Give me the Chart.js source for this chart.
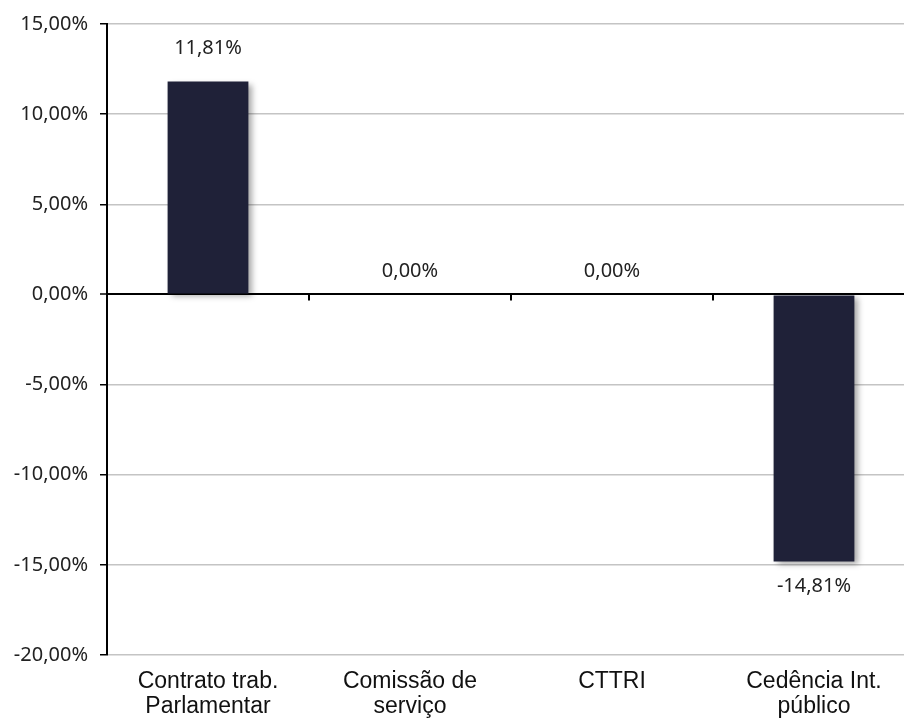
<!DOCTYPE html>
<html>
<head>
<meta charset="utf-8">
<script src="https://cdn.jsdelivr.net/npm/chart.js@4/dist/chart.umd.min.js"></script>
<style>
  html, body { margin: 0; padding: 0; background: #ffffff; overflow: hidden; }
  #wrap { width: 915px; height: 720px; position: relative; }
</style>
</head>
<body>
<div id="wrap"><canvas id="c"></canvas></div>
<script>
const categories = [
  ['Contrato trab.', 'Parlamentar'],
  ['Comissão de', 'serviço'],
  ['CTTRI'],
  ['Cedência Int.', 'público']
];
const values = [11.81, 0.00, 0.00, -14.81];
const yMin = -20, yMax = 15, yStep = 5;

const fmt = v => v.toFixed(2).replace('.', ',') + '%';

const shadowPlugin = {
  id: 'barShadow',
  beforeDatasetsDraw(chart) {
    const ctx = chart.ctx;
    ctx.save();
    ctx.shadowColor = 'rgba(0,0,0,0.35)';
    ctx.shadowBlur = 6;
    ctx.shadowOffsetX = 4;
    ctx.shadowOffsetY = 3;
  },
  afterDatasetsDraw(chart) {
    chart.ctx.restore();
  }
};

const zeroTicksPlugin = {
  id: 'zeroTicks',
  afterDatasetsDraw(chart) {
    const ctx = chart.ctx;
    const x = chart.scales.x, y = chart.scales.y;
    const y0 = y.getPixelForValue(0);
    ctx.save();
    ctx.strokeStyle = '#000';
    ctx.lineWidth = 2;
    for (let i = 1; i < categories.length; i++) {
      const px = Math.round((x.getPixelForValue(i - 1) + x.getPixelForValue(i)) / 2);
      ctx.beginPath();
      ctx.moveTo(px, y0);
      ctx.lineTo(px, y0 + 6);
      ctx.stroke();
    }
    ctx.restore();
  }
};

const labelPlugin = {
  id: 'valueLabels',
  afterDatasetsDraw(chart) {
    const ctx = chart.ctx;
    const meta = chart.getDatasetMeta(0);
    ctx.save();
    ctx.font = '20px "Noto Sans", "Open Sans", sans-serif';
    ctx.fillStyle = '#222';
    ctx.textAlign = 'center';
    ctx.textBaseline = 'middle';
    meta.data.forEach((bar, i) => {
      const v = values[i];
      let yy;
      if (v > 0) yy = bar.y - 33;
      else if (v < 0) yy = bar.y + 25;
      else yy = bar.y - 23;
      ctx.fillText(fmt(v), bar.x, yy);
    });
    ctx.restore();
  }
};

new Chart(document.getElementById('c'), {
  type: 'bar',
  data: {
    labels: categories,
    datasets: [{
      data: values,
      backgroundColor: '#1f2138',
      borderWidth: 0,
      categoryPercentage: 1.0,
      barPercentage: 0.40
    }]
  },
  options: {
    responsive: true,
    maintainAspectRatio: false,
    animation: false,
    layout: { padding: { top: 22, right: 0, bottom: 0, left: 0 } },
    plugins: { legend: { display: false }, tooltip: { enabled: false } },
    scales: {
      x: {
        grid: { display: false },
        border: { display: false },
        ticks: {
          color: '#111',
          font: { family: '"Liberation Sans", Arial, sans-serif', size: 23, lineHeight: 1.1 },
          padding: 6,
          maxRotation: 0,
          autoSkip: false
        },
        afterFit(scale) { scale.height = 65; }
      },
      y: {
        min: yMin,
        max: yMax,
        ticks: {
          stepSize: yStep,
          color: '#222',
          font: { family: '"Noto Sans", "Open Sans", sans-serif', size: 20 },
          padding: 12,
          callback: v => fmt(v)
        },
        grid: {
          color: ctx => (ctx.tick && ctx.tick.value === 0) ? '#000' : '#c4c4c4',
          lineWidth: ctx => (ctx.tick && ctx.tick.value === 0) ? 2 : 1.5,
          tickColor: '#000',
          tickLength: 7,
          tickWidth: 1.5,
          drawTicks: true
        },
        border: { display: true, color: '#000', width: 2 },
        afterFit(scale) { scale.width = 107; }
      }
    }
  },
  plugins: [shadowPlugin, zeroTicksPlugin, labelPlugin]
});
</script>
</body>
</html>
